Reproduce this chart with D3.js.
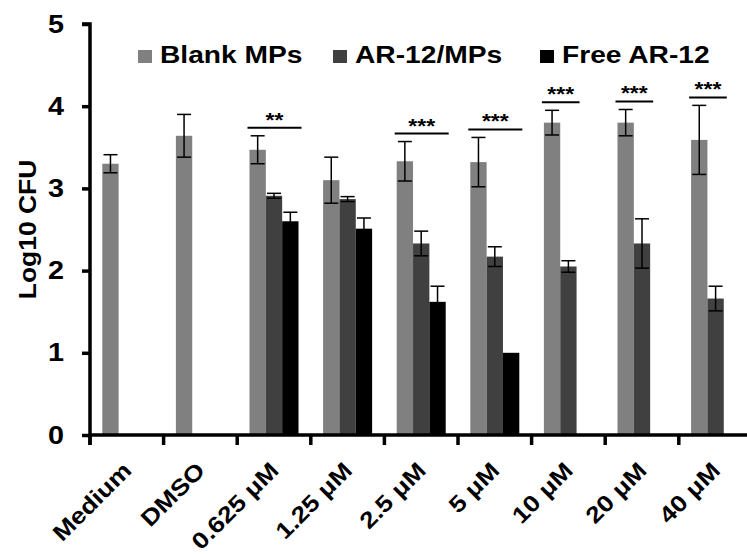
<!DOCTYPE html>
<html><head><meta charset="utf-8">
<script src="https://cdn.jsdelivr.net/npm/d3@7"></script>
<style>body{margin:0;background:#fff;} text{font-family:"Liberation Sans",Arial,sans-serif;font-weight:bold;fill:#000;}</style>
</head><body>
<svg id="c" width="747" height="554"></svg>
<script>
const categories = ["Medium","DMSO","0.625 \u03bcM","1.25 \u03bcM","2.5 \u03bcM","5 \u03bcM","10 \u03bcM","20 \u03bcM","40 \u03bcM"];
const seriesNames = ["Blank MPs","AR-12/MPs","Free AR-12"];
const blankMPs   = [3.30, 3.64, 3.47, 3.10, 3.33, 3.32, 3.80, 3.80, 3.59];
const blankErr   = [0.11, 0.26, 0.17, 0.28, 0.24, 0.30, 0.15, 0.16, 0.42];
const ar12MPs    = [null, null, 2.91, 2.87, 2.33, 2.17, 2.05, 2.33, 1.66];
const ar12Err    = [null, null, 0.03, 0.03, 0.15, 0.12, 0.07, 0.30, 0.15];
const freeAR12   = [null, null, 2.60, 2.51, 1.62, 1.00, null, null, null];
const freeErr    = [null, null, 0.11, 0.13, 0.19, null, null, null, null];
const sigLabels  = [null, null, "**", null, "***", "***", "***", "***", "***"];
const yTicks = [0,1,2,3,4,5];
const colors = ["#808080","#404040","#000000"];

const values = [blankMPs, ar12MPs, freeAR12];
const errs = [blankErr, ar12Err, freeErr];
const SX = 1.15; // horizontal glyph stretch of the original rendering

const svg = d3.select("#c");
const x0 = 90, yBase = 435;
const x = d3.scaleBand().domain(categories).range([x0, x0 + 9*73.6]).paddingInner(0).paddingOuter(0);
const xs = d3.scaleBand().domain([0,1,2]).range([x.bandwidth()*0.167, x.bandwidth()*0.833]).padding(0);
const y = d3.scaleLinear().domain([0,5]).range([yBase, 24]);

// bars
const g = svg.append("g");
categories.forEach((c,i)=>{
  for(let s=0;s<3;s++){
    const v = values[s][i];
    if(v==null) continue;
    g.append("rect").attr("x", x(c)+xs(s)).attr("y", y(v)).attr("width", xs.bandwidth()).attr("height", y(0)-y(v)).attr("fill", colors[s]);
  }
});
// error bars
categories.forEach((c,i)=>{
  for(let s=0;s<3;s++){
    const v = values[s][i], e = errs[s][i];
    if(v==null||e==null) continue;
    const cx = x(c)+xs(s)+xs.bandwidth()/2;
    const eg = g.append("g").attr("stroke","#000").attr("stroke-width",1.5);
    eg.append("line").attr("x1",cx).attr("x2",cx).attr("y1",y(v-e)).attr("y2",y(v+e));
    eg.append("line").attr("x1",cx-7).attr("x2",cx+7).attr("y1",y(v+e)).attr("y2",y(v+e));
    eg.append("line").attr("x1",cx-7).attr("x2",cx+7).attr("y1",y(v-e)).attr("y2",y(v-e));
  }
});
// significance
categories.forEach((c,i)=>{
  if(!sigLabels[i]) return;
  let top = 0, first=null, last=null;
  for(let s=0;s<3;s++){
    const v = values[s][i]; if(v==null) continue;
    const e = errs[s][i]||0;
    top = Math.max(top, v+e);
    if(first==null) first=s; last=s;
  }
  const ly = y(top)-8;
  const xa = x(c)+xs(first)-2, xb = x(c)+xs(last)+xs.bandwidth()+3;
  g.append("line").attr("x1",xa).attr("x2",xb).attr("y1",ly).attr("y2",ly).attr("stroke","#000").attr("stroke-width",2);
  g.append("text").attr("transform",`translate(${(xa+xb)/2},${ly-1}) scale(${SX},1)`).attr("text-anchor","middle").attr("font-size",20).text(sigLabels[i]);
});

// axes
const yAxis = d3.axisLeft(y).tickValues(yTicks).tickSize(8).tickFormat(d3.format("d"));
const ya = svg.append("g").attr("transform",`translate(${x0},0)`).call(yAxis);
ya.select(".domain").attr("stroke-width",3.5).attr("d",`M-8,${y(5)}H0V${yBase+10}`);
ya.selectAll(".tick line").attr("stroke-width",3.5);
ya.selectAll(".tick text").attr("font-size",25).attr("x",0).attr("transform",`translate(-26,0) scale(${SX},1)`)
  .attr("fill","#000").attr("font-family","Liberation Sans, Arial").attr("font-weight","bold");

const xAxis = d3.axisBottom(x).tickSize(0).tickFormat("");
const xa = svg.append("g").attr("transform",`translate(0,${yBase})`).call(xAxis);
xa.select(".domain").attr("stroke-width",3.5).attr("d",`M${x0},0H747`);
xa.selectAll(".tick").remove();
// ticks at category boundaries
xa.selectAll("line.b").data(categories).enter().append("line").attr("class","b")
  .attr("x1",d=>x(d)).attr("x2",d=>x(d)).attr("y1",0).attr("y2",10).attr("stroke","#000").attr("stroke-width",3.5);
// labels
svg.selectAll("text.xl").data(categories).enter().append("text").attr("class","xl")
  .attr("transform",d=>`translate(${x(d)+x.bandwidth()/2+6},${yBase+37}) rotate(-45) scale(${SX},1)`)
  .attr("text-anchor","end").attr("font-size",23).text(d=>d);

// y label
svg.append("text").attr("transform",`translate(36,${(y(5)+yBase)/2}) rotate(-90) scale(${SX},1)`).attr("text-anchor","middle").attr("font-size",23).text("Log10 CFU");

// legend
const legX = [138, 333, 540];
seriesNames.forEach((n,i)=>{
  svg.append("rect").attr("x",legX[i]).attr("y",50).attr("width",14).attr("height",13).attr("fill",colors[i]);
  svg.append("text").attr("transform",`translate(${legX[i]+22},63) scale(${SX},1)`).attr("font-size",24.5).text(n);
});
</script>
</body></html>
